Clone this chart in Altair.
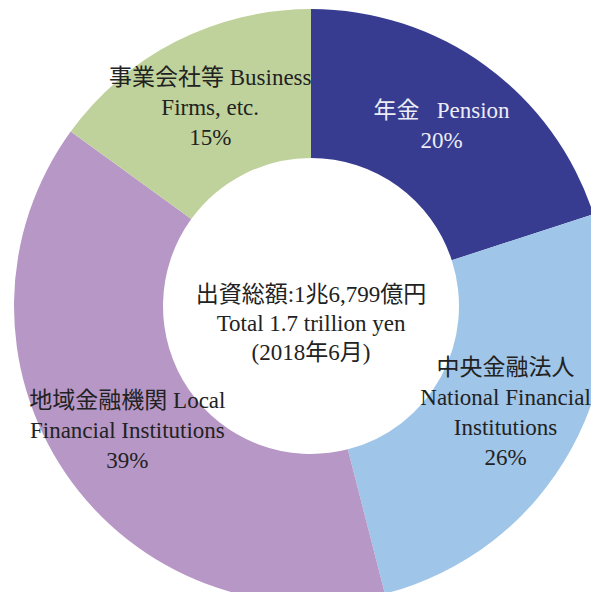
import altair as alt
import pandas as pd

# Data
names = [
    "年金 Pension",
    "中央金融法人 National Financial Institutions",
    "地域金融機関 Local Financial Institutions",
    "事業会社等 Business Firms, etc.",
]
shares = [20, 26, 39, 15]
colors = ["#373C90", "#9FC5E8", "#B797C6", "#C0D29C"]
label_texts = [
    "年金\u00a0\u00a0\u00a0Pension\n20%",
    "中央金融法人\nNational Financial\nInstitutions\n26%",
    "地域金融機関 Local\nFinancial Institutions\n39%",
    "事業会社等 Business\nFirms, etc.\n15%",
]
label_colors = ["#ECECF6", "#222222", "#222222", "#222222"]
center_lines = ["出資総額:1兆6,799億円", "Total 1.7 trillion yen", "(2018年6月)"]

FONT = "'Liberation Serif', 'Noto Sans CJK JP', serif"
CX, CY = 303, 298
LH = 30

df = pd.DataFrame({
    "name": names,
    "value": shares,
    "order": list(range(len(names))),
    "label": label_texts,
    "tcolor": label_colors,
    "nlines": [len(t.split("\n")) for t in label_texts],
})

arc = alt.Chart(df).mark_arc(innerRadius=148, outerRadius=297, strokeWidth=0).encode(
    theta=alt.Theta("value:Q", stack=True),
    order=alt.Order("order:Q", sort="ascending"),
    color=alt.Color("name:N", scale=alt.Scale(domain=names, range=colors), legend=None),
    x=alt.value(CX),
    y=alt.value(CY),
)

layers = [arc]
for n in sorted(set(df["nlines"])):
    lab = alt.Chart(df).transform_window(
        cum="sum(value)", sort=[alt.SortField("order")]
    ).transform_calculate(
        mid="datum.cum - datum.value / 2"
    ).transform_filter(
        alt.datum.nlines == int(n)
    ).mark_text(
        radius=222, font=FONT, fontSize=23, lineBreak="\n", lineHeight=LH,
        align="center", baseline="middle", dy=-(int(n) - 1) * LH / 2,
    ).encode(
        theta=alt.Theta("mid:Q"),
        text="label:N",
        color=alt.Color("tcolor:N", scale=None),
        x=alt.value(CX),
        y=alt.value(CY),
    )
    layers.append(lab)

center = alt.Chart(pd.DataFrame({"t": ["\n".join(center_lines)]})).mark_text(
    font=FONT, fontSize=23, lineBreak="\n", lineHeight=29,
    align="center", baseline="middle", color="#222222",
).encode(
    text="t:N",
    x=alt.value(CX),
    y=alt.value(CY - 11),
)
layers.append(center)

chart = alt.layer(*layers).properties(
    width=583, height=584, padding=0,
    autosize=alt.AutoSizeParams(type="none"),
).configure_view(strokeWidth=0)

chart.save("out.html", embed_options={"renderer": "svg", "actions": False})
